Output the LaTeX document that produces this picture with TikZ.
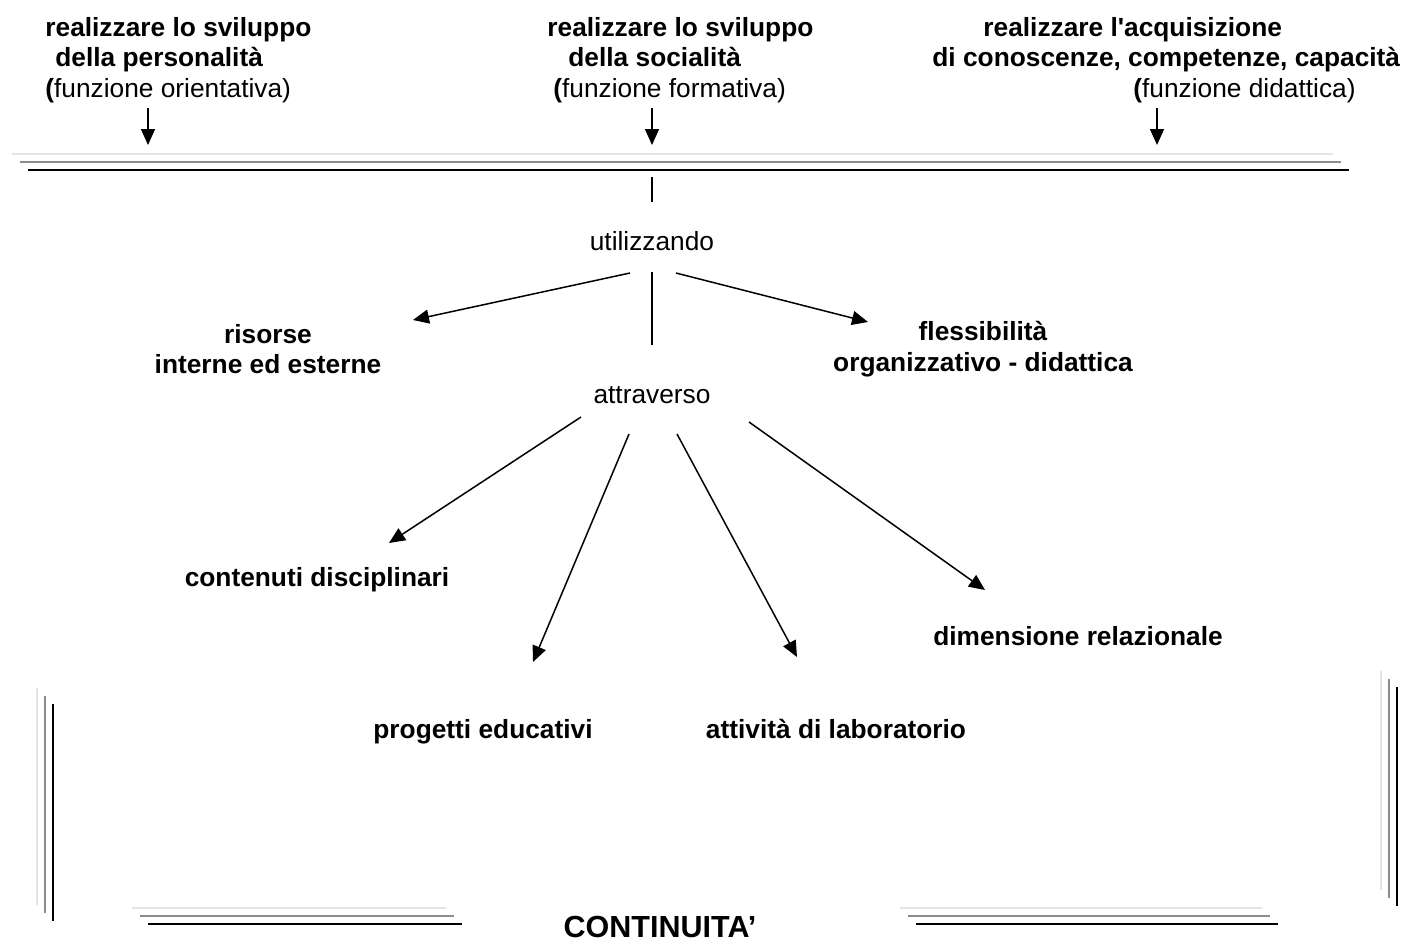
\documentclass[tikz,border=0pt]{standalone}
\usepackage{fontspec}
\setmainfont{Liberation Sans}
\usetikzlibrary{arrows.meta}
\definecolor{lgrey}{RGB}{228,228,228}
\definecolor{mgrey}{RGB}{140,140,140}

\begin{document}
\begin{tikzpicture}[x=0.5pt,y=-0.5pt,
  every node/.style={inner sep=0pt,font=\fontsize{13.15}{15.2}\selectfont},
  txt/.style={font=\fontsize{13.15}{15.2}\selectfont\bfseries,align=center},
  arr/.style={line width=0.75pt,-{Triangle[length=8pt,width=7pt]}},
  bar/.style={line width=0.75pt},
  frame/.style={line width=1pt}]
  \useasboundingbox (0,0) rectangle (1411,943);

  % the three functions
  \node[anchor=north west,align=left] (pers) at (45,17)
    {\textbf{realizzare lo sviluppo}\\\hspace*{5pt}\textbf{della personalità}\\\textbf{(}funzione orientativa)};
  \node[anchor=north west,align=left] (soc) at (547,17)
    {\textbf{realizzare lo sviluppo}\\\hspace*{10.5pt}\textbf{della socialità}\\\hspace*{3pt}\textbf{(}funzione formativa)};
  \node[anchor=north west,align=left] (did) at (932,17)
    {\hspace*{25.5pt}\textbf{realizzare l\textquotesingle acquisizione}\\\textbf{di conoscenze, competenze, capacità}\\\hspace*{100.5pt}\textbf{(}funzione didattica)};

  % shadowed bars
  \foreach \c/\d in {lgrey/0, mgrey/8, black/16} {
    \draw[frame,\c,shift={(\d,\d)}] (12,154) -- (1333,154);
    \draw[frame,\c,shift={(\d,\d)}] (132,908) -- (446,908);
    \draw[frame,\c,shift={(\d,\d)}] (900,908) -- (1262,908);
    \draw[frame,\c,shift={(\d,\d)}] (37,688) -- (37,905);
    \draw[frame,\c,shift={(\d,\d)}] (1381,671) -- (1381,890);
  }

  \node (u) at (652,250) [anchor=base] {utilizzando};
  \node (a) at (652,403) [anchor=base] {attraverso};
  \node[txt] (ris) at (268,349) {risorse\\interne ed esterne};
  \node[txt] (fl) at (983,349) {flessibilità\\organizzativo - didattica};
  \node[txt,anchor=base] (cont) at (317,586) {contenuti disciplinari};
  \node[txt,anchor=base] (prog) at (483,738) {progetti educativi};
  \node[txt,anchor=base] (att) at (836,738) {attività di laboratorio};
  \node[txt,anchor=base] (dim) at (1078,645) {dimensione relazionale};
  \node[anchor=base,font=\fontsize{15.25}{17}\selectfont\bfseries] (cont2) at (660,937) {CONTINUITA’};

  % arrow ends
  \coordinate (pers-in) at (148,108); \coordinate (pers-out) at (148,145);
  \coordinate (soc-in) at (652,108);  \coordinate (soc-out) at (652,145);
  \coordinate (did-in) at (1157,108); \coordinate (did-out) at (1157,145);
  \coordinate (bar-u) at (652,177);   \coordinate (u-top) at (652,202);
  \coordinate (u-l) at (630,273);     \coordinate (ris-in) at (413,320);
  \coordinate (u-r) at (676,273);     \coordinate (fl-in) at (868,322);
  \coordinate (u-a) at (652,272);     \coordinate (a-top) at (652,345);
  \coordinate (a-1) at (581,417);     \coordinate (cont-in) at (389,543);
  \coordinate (a-2) at (629,434);     \coordinate (prog-in) at (533,662);
  \coordinate (a-3) at (677,434);     \coordinate (att-in) at (797,657);
  \coordinate (a-4) at (749,422);     \coordinate (dim-in) at (985,590);

  \draw[arr] (pers-in) -- (pers-out);
  \draw[arr] (soc-in) -- (soc-out);
  \draw[arr] (did-in) -- (did-out);
  \draw[bar] (bar-u) -- (u-top);
  \draw[arr] (u-l) -- (ris-in);
  \draw[arr] (u-r) -- (fl-in);
  \draw[bar] (u-a) -- (a-top);
  \draw[arr] (a-1) -- (cont-in);
  \draw[arr] (a-2) -- (prog-in);
  \draw[arr] (a-3) -- (att-in);
  \draw[arr] (a-4) -- (dim-in);
\end{tikzpicture}
\end{document}
